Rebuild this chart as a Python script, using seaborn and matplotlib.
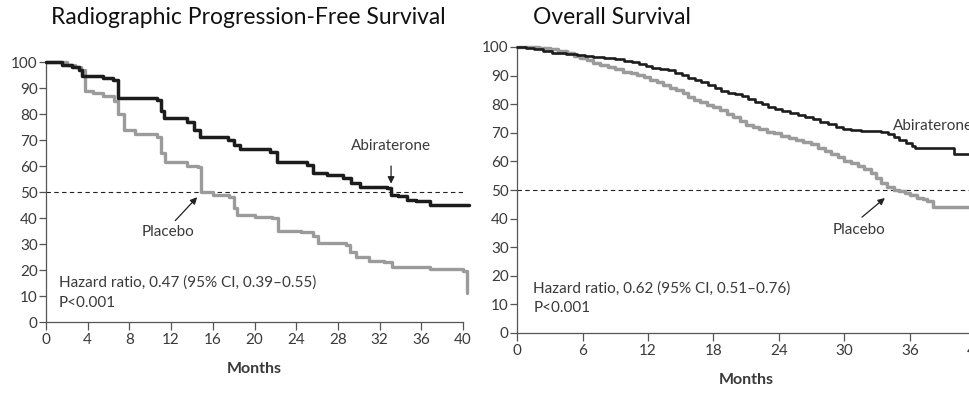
import numpy as np
import pandas as pd
import matplotlib
matplotlib.use("Agg")
import matplotlib.pyplot as plt
import seaborn as sns

# ---- Radiographic progression-free survival (months, % event-free) ----
rpfs_abi_t = [0, 1.5, 2.5, 3.2, 3.5, 5.5, 6.4, 6.9, 10.6, 11.0, 11.3, 13.5, 14.2,
              14.8, 17.5, 18.0, 18.6, 21.5, 22.2, 25.0, 25.6, 27.0, 28.5, 29.3,
              30.1, 32.7, 33.1, 33.8, 34.6, 35.5, 36.8, 40.6]
rpfs_abi_v = [100, 99, 98, 97, 94.8, 94, 93, 86, 85.5, 81, 78.5, 77, 74,
              71, 70, 68, 66.5, 65.5, 61.5, 60.5, 57.5, 56.5, 55.5, 53.5,
              52, 51.5, 49, 48.5, 47, 46.5, 45, 45]

rpfs_pla_t = [0, 2.0, 2.8, 3.4, 3.7, 4.5, 5.5, 6.5, 6.9, 7.5, 8.5, 10.6, 11.0,
              11.4, 13.5, 14.6, 14.9, 16.0, 17.6, 18.0, 18.3, 20.0, 21.7, 22.3,
              24.5, 25.6, 26.1, 28.8, 29.2, 29.7, 31.0, 32.4, 33.2, 36.8, 40.0,
              40.4]
rpfs_pla_v = [100, 99, 98, 97, 89, 88, 87, 85, 80, 74, 72.5, 71, 65,
              61.5, 60, 59.5, 50, 49, 48, 44, 41, 40.5, 40, 35,
              34.5, 33, 30.5, 29.5, 27, 25, 23.5, 23, 21, 20.5, 19.5, 16.5]
rpfs_pla_end = 11

# ---- Overall survival (months, % alive) ----
os_abi_t = [0, 0.8, 1.6, 2.4, 3.2, 4.5, 5.5, 6.2, 7.0, 8.0, 9.0, 9.8, 10.5, 11.2,
            11.8, 12.4, 13.1, 13.8, 14.5, 15.1, 15.7, 16.3, 16.9, 17.5, 18.1,
            18.7, 19.3, 20.0, 20.6, 21.2, 21.8, 22.4, 23.0, 23.6, 24.3, 25.0,
            25.7, 26.4, 27.1, 27.8, 28.5, 29.2, 29.9, 30.6, 31.5, 32.4, 33.3,
            34.0, 34.5, 35.0, 35.6, 36.2, 36.5, 40.0, 41.5]
os_abi_v = [100, 99.7, 99.2, 98.5, 97.8, 97.5, 97.2, 96.8, 96.4, 96, 95.7, 95.2,
            94.6, 94, 93.4, 92.8, 92.3, 91.8, 91, 90.2, 89.3, 88.5, 87.6, 86.6,
            85.7, 84.5, 83.9, 83.4, 82.7, 81.8, 80.9, 80, 79, 78.2, 77.5, 76.8,
            76.2, 75.5, 74.8, 73.9, 73, 72, 71.3, 71, 70.8, 70.6, 70.2, 69.5,
            68.5, 67.4, 66.6, 65.5, 64.8, 62.6, 62.6]

os_pla_t = [0, 2.0, 3.0, 3.8, 4.6, 5.2, 5.8, 6.4, 7.0, 7.6, 8.3, 9.0, 9.7, 10.4,
            11.0, 11.6, 12.2, 12.8, 13.4, 14.0, 14.6, 15.2, 15.7, 16.2, 16.8,
            17.4, 18.0, 18.6, 19.2, 19.8, 20.4, 21.0, 21.6, 22.2, 22.9, 23.5,
            24.2, 24.9, 25.6, 26.2, 26.9, 27.6, 28.2, 28.8, 29.4, 30.0, 30.6,
            31.2, 31.8, 32.4, 32.9, 33.3, 33.9, 34.5, 35.0, 35.5, 36.0, 36.6,
            37.2, 37.6, 38.1, 41.5]
os_pla_v = [100, 99.8, 99.3, 98.6, 97.8, 97, 96.2, 95.5, 94.5, 93.7, 93, 92.2,
            91.4, 90.8, 90.2, 89.6, 88.5, 87.6, 86.6, 85.8, 85, 83.8, 82.6, 81.5,
            80.6, 79.8, 79, 77.8, 76.6, 75.6, 74.2, 72.8, 72, 71.2, 70.4, 69.8,
            69, 68.3, 67.6, 66.9, 66, 64.8, 63.6, 62.6, 61.4, 60.3, 59.3, 58.3,
            57.3, 55.8, 54.2, 52.5, 51.2, 50, 49.5, 48.8, 48.3, 47.3, 46.8, 46,
            44, 44]

groups = ["Placebo", "Abiraterone"]
colors = {"Abiraterone": "#1c1c1c", "Placebo": "#9b9b9b"}

rpfs_ticks = [0, 4, 8, 12, 16, 20, 24, 28, 32, 36, 40]
os_ticks = [0, 6, 12, 18, 24, 30, 36, 42]
y_ticks = [0, 10, 20, 30, 40, 50, 60, 70, 80, 90, 100]

rpfs_hr = "Hazard ratio, 0.47 (95% CI, 0.39\u20130.55)\nP<0.001"
os_hr = "Hazard ratio, 0.62 (95% CI, 0.51\u20130.76)\nP<0.001"


def frame(t_abi, v_abi, t_pla, v_pla):
    return pd.concat([
        pd.DataFrame({"Months": t_pla, "Pct": v_pla, "Group": "Placebo"}),
        pd.DataFrame({"Months": t_abi, "Pct": v_abi, "Group": "Abiraterone"}),
    ], ignore_index=True)


rpfs_df = frame(rpfs_abi_t, rpfs_abi_v,
                rpfs_pla_t + [rpfs_pla_t[-1]], rpfs_pla_v + [rpfs_pla_end])
os_df = frame(os_abi_t, os_abi_v, os_pla_t, os_pla_v)

sns.set_theme(style="ticks")
plt.rcParams["font.family"] = ["Lato", "DejaVu Sans"]
axis_grey = "#555555"
text_grey = "#3a3a3a"

fig = plt.figure(figsize=(9.69, 3.93), dpi=100)
ax1 = fig.add_axes([46 / 969, 71 / 393, 417 / 969, 260 / 393])
ax2 = fig.add_axes([517 / 969, 60 / 393, 458.5 / 969, 286 / 393])


def km(ax, df, xmax, ticks, lws):
    for g in groups:
        sub = df[df["Group"] == g]
        sns.lineplot(data=sub, x="Months", y="Pct", color=colors[g],
                     drawstyle="steps-post", estimator=None, sort=False,
                     linewidth=lws[g], ax=ax, legend=False, clip_on=False,
                     zorder=3 if g == "Abiraterone" else 2)
    ax.axhline(50, color="#222222", lw=0.8, ls=(0, (4, 3)), zorder=1)
    ax.set_xlim(0, xmax)
    ax.set_ylim(0, 100)
    ax.set_xticks(ticks)
    ax.set_yticks(y_ticks)
    ax.set_xlabel("Months", fontsize=11.5, fontweight="bold", color=text_grey,
                  labelpad=11)
    ax.set_ylabel("")
    sns.despine(ax=ax)
    for s in ("left", "bottom"):
        ax.spines[s].set_color(axis_grey)
        ax.spines[s].set_linewidth(0.9)
    ax.tick_params(axis="both", colors=axis_grey, labelcolor=text_grey,
                   labelsize=11, width=0.9)
    ax.tick_params(axis="x", length=6, pad=2)
    ax.tick_params(axis="y", length=5, pad=1)


km(ax1, rpfs_df, 40, rpfs_ticks, {"Abiraterone": 2.5, "Placebo": 2.4})
km(ax2, os_df, 42, os_ticks, {"Abiraterone": 1.9, "Placebo": 2.5})

ann = dict(fontsize=11, color=text_grey)
arrow = dict(arrowstyle="-|>", color="#222222", lw=0.9, mutation_scale=10,
             shrinkA=0, shrinkB=0)

# Left panel labels
ax1.text(33.1, 67.7, "Abiraterone", ha="center", va="center", **ann)
ax1.annotate("", xy=(33.1, 53.2), xytext=(33.1, 60.0), arrowprops=arrow)
ax1.text(11.7, 34.5, "Placebo", ha="center", va="center", **ann)
ax1.annotate("", xy=(14.5, 48.0), xytext=(12.4, 39.0), arrowprops=arrow)
ax1.text(1.2, 11.3, rpfs_hr, ha="left", va="center", linespacing=1.5, **ann)

# Right panel labels
ax2.text(34.4, 72.4, "Abiraterone", ha="left", va="center", clip_on=False,
         **ann)
ax2.text(31.3, 36.0, "Placebo", ha="center", va="center", **ann)
ax2.annotate("", xy=(33.7, 47.2), xytext=(31.6, 40.5), arrowprops=arrow)
ax2.text(1.5, 12.2, os_hr, ha="left", va="center", linespacing=1.5, **ann)

# Panel titles
fig.text(248 / 969, 1 - 18 / 393, "Radiographic Progression-Free Survival",
         ha="center", va="center", fontsize=16.5, color="#111111")
fig.text(533 / 969, 1 - 18 / 393, "Overall Survival",
         ha="left", va="center", fontsize=16.5, color="#111111")

fig.savefig("out.png", dpi=100)
